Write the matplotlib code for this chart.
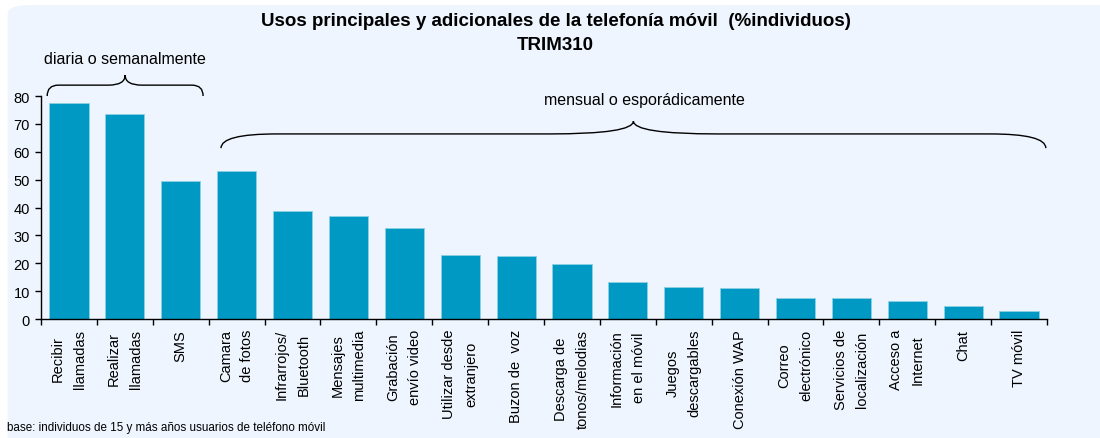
import matplotlib.pyplot as plt
from matplotlib.patches import FancyBboxPatch, PathPatch
from matplotlib.path import Path

plt.rcParams['font.family'] = ['Liberation Sans', 'DejaVu Sans']

# Datos: % de individuos que usan cada servicio
usos = ["Recibir\nllamadas", "Realizar\nllamadas", "SMS", "Camara\nde fotos",
        "Infrarrojos/\nBluetooth", "Mensajes\nmultimedia", "Grabación\nenvío video",
        "Utilizar desde\nextranjero", "Buzon de  voz", "Descarga de\ntonos/melodias",
        "Información\nen el móvil", "Juegos\ndescargables", "Conexión WAP",
        "Correo\nelectrónico", "Servicios de\nlocalización", "Acceso a\nInternet",
        "Chat", "TV móvil"]
porcentaje = [77.4, 73.5, 49.4, 53.2, 38.9, 36.8, 32.5, 22.8, 22.5, 19.6,
              13.3, 11.4, 11.0, 7.5, 7.5, 6.6, 4.7, 2.8]
yticks = [0, 10, 20, 30, 40, 50, 60, 70, 80]

fondo = "#EEF5FE"
azul = "#0099C4"


def llave(ax, x0, x1, y0, y1, y2, r_ext, r_pico):
    """Dibuja una llave horizontal abierta hacia abajo."""
    xm = (x0 + x1) / 2
    verts = [(x0, y0), (x0, y1), (x0 + r_ext, y1),
             (xm - r_pico, y1), (xm, y1), (xm, y2),
             (xm, y1), (xm + r_pico, y1),
             (x1 - r_ext, y1), (x1, y1), (x1, y0)]
    codes = [Path.MOVETO, Path.CURVE3, Path.CURVE3,
             Path.LINETO, Path.CURVE3, Path.CURVE3,
             Path.CURVE3, Path.CURVE3,
             Path.LINETO, Path.CURVE3, Path.CURVE3]
    ax.add_patch(PathPatch(Path(verts, codes), fill=False, lw=1.0,
                           color="black", clip_on=False))


fig = plt.figure(figsize=(11, 4.39), dpi=100)
fig.patch.set_facecolor("white")
fig.patches.append(FancyBboxPatch((0.007, -0.05), 1.05, 1.036,
                                  boxstyle="round,pad=0,rounding_size=0.02",
                                  transform=fig.transFigure, facecolor=fondo,
                                  edgecolor="none", zorder=-5))

ax = fig.add_axes([0.0373, 0.271, 0.9145, 0.508])
ax.set_zorder(1)
ax.set_facecolor("none")
x = range(len(usos))
ax.bar(x, porcentaje, width=0.7, color=azul, edgecolor="#8FD0E4", linewidth=0.6)

ax.set_xlim(-0.5, len(usos) - 0.5)
ax.set_ylim(0, 80)
ax.set_yticks(yticks)
ax.tick_params(axis="y", labelsize=10.5, length=4, width=1, direction="out", pad=4)
ax.set_xticks(list(x))
ax.set_xticklabels(usos, rotation=90, fontsize=10.5, va="top", ha="center",
                   multialignment="center", linespacing=1.7)
ax.tick_params(axis="x", which="major", length=0, pad=7)
ax.set_xticks([i - 0.5 for i in range(len(usos) + 1)], minor=True)
ax.tick_params(axis="x", which="minor", length=4, width=1, direction="out")
for s in ["top", "right"]:
    ax.spines[s].set_visible(False)
ax.spines["left"].set_linewidth(1)
ax.spines["bottom"].set_linewidth(1)

# Llaves de frecuencia de uso
llave(ax, -0.39, 2.4, 80, 83.9, 87.5, 0.2, 0.3)
ax.text(1.0, 93.3, "diaria o semanalmente", ha="center", va="center", fontsize=11.5)
llave(ax, 2.72, 17.48, 61.3, 66.4, 71.0, 1.0, 1.5)
ax.text(10.3, 78.9, "mensual o esporádicamente", ha="center", va="center", fontsize=11.5)

fig.text(0.505, 1 - 22 / 439, "Usos principales y adicionales de la telefonía móvil  (%individuos)",
         ha="center", va="center", fontsize=13.5, fontweight="bold")
fig.text(0.505, 1 - 46 / 439, "TRIM310",
         ha="center", va="center", fontsize=13.5, fontweight="bold")
fig.text(0.006, 1 - 428 / 439, "base: individuos de 15 y más años usuarios de teléfono móvil",
         ha="left", va="center", fontsize=8.4)

fig.savefig("out.png", dpi=100, facecolor="white")
